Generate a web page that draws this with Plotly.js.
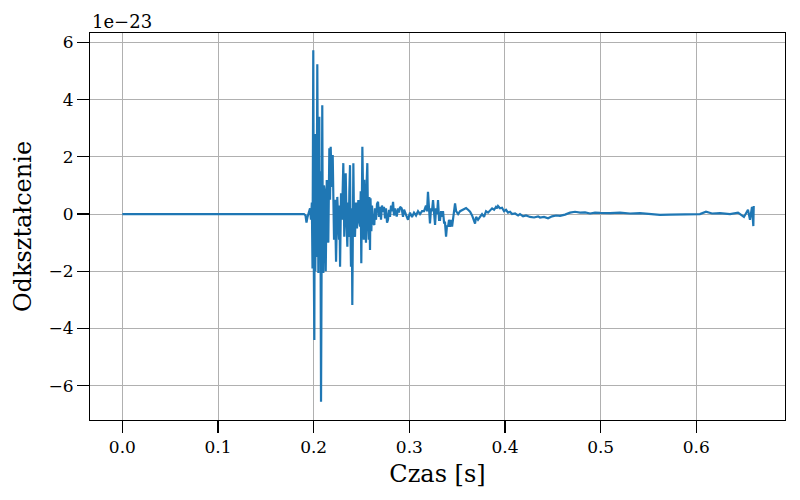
<!DOCTYPE html>
<html>
<head>
<meta charset="utf-8">
<script src="https://cdn.plot.ly/plotly-3.0.1.min.js"></script>
<style>html,body{margin:0;padding:0;background:#fff}#chart{width:800px;height:500px}</style>
</head>
<body>
<div id="chart"></div>
<script>
// Time [s]
const czas = [
0.0000,0.1899,0.1915,0.1925,0.1936,0.1952,0.1962,0.1972,0.1981,0.1988,
0.1996,0.2002,0.2007,0.2012,0.2017,0.2025,0.2030,0.2038,0.2043,0.2049,
0.2054,0.2059,0.2064,0.2070,0.2077,0.2082,0.2090,0.2095,0.2101,0.2108,
0.2116,0.2126,0.2137,0.2145,0.2153,0.2164,0.2171,0.2178,0.2189,0.2199,
0.2206,0.2213,0.2223,0.2234,0.2247,0.2255,0.2265,0.2270,0.2276,0.2286,
0.2296,0.2310,0.2320,0.2328,0.2335,0.2344,0.2352,0.2359,0.2367,0.2373,
0.2380,0.2385,0.2390,0.2398,0.2404,0.2415,0.2422,0.2432,0.2443,0.2453,
0.2467,0.2474,0.2485,0.2492,0.2498,0.2509,0.2516,0.2524,0.2530,0.2537,
0.2542,0.2547,0.2555,0.2561,0.2568,0.2576,0.2582,0.2589,0.2594,0.2603,
0.2610,0.2620,0.2634,0.2641,0.2652,0.2662,0.2673,0.2683,0.2694,0.2704,
0.2714,0.2725,0.2735,0.2746,0.2756,0.2767,0.2777,0.2788,0.2798,0.2809,
0.2819,0.2830,0.2840,0.2851,0.2868,0.2882,0.2892,0.2903,0.2920,0.2934,
0.2945,0.2955,0.2973,0.2986,0.3007,0.3028,0.3049,0.3070,0.3091,0.3112,
0.3133,0.3154,0.3174,0.3185,0.3195,0.3206,0.3216,0.3227,0.3237,0.3248,
0.3258,0.3269,0.3279,0.3290,0.3300,0.3311,0.3321,0.3332,0.3342,0.3352,
0.3363,0.3373,0.3384,0.3394,0.3405,0.3415,0.3426,0.3436,0.3447,0.3457,
0.3468,0.3478,0.3489,0.3510,0.3531,0.3552,0.3572,0.3593,0.3614,0.3635,
0.3656,0.3677,0.3687,0.3698,0.3718,0.3739,0.3760,0.3781,0.3802,0.3823,
0.3844,0.3865,0.3886,0.3906,0.3917,0.3927,0.3948,0.3969,0.3990,0.4011,
0.4032,0.4053,0.4074,0.4105,0.4137,0.4157,0.4189,0.4220,0.4262,0.4304,
0.4346,0.4366,0.4408,0.4450,0.4492,0.4534,0.4575,0.4628,0.4680,0.4732,
0.4785,0.4837,0.4889,0.4941,0.4993,0.5098,0.5202,0.5307,0.5411,0.5516,
0.5620,0.5725,0.5829,0.5934,0.6038,0.6101,0.6164,0.6248,0.6352,0.6436,
0.6498,0.6540,0.6561,0.6582,0.6596,0.6600
];
// Strain [1e-23]
const odksztalcenie = [
0.00,0.00,-0.05,-0.30,-0.10,0.15,0.20,-0.20,0.40,-1.90,
5.73,-2.00,-4.40,2.80,-2.00,2.70,-1.50,5.24,-1.00,-2.06,
2.50,3.40,-1.20,1.50,-6.56,1.78,3.80,-0.50,-2.06,1.00,
0.78,-2.00,1.19,-0.30,-1.00,2.30,0.50,2.35,0.95,2.06,
0.20,-0.90,0.50,-1.67,0.60,-0.30,-0.90,0.30,-1.84,0.73,
-0.20,1.78,-0.79,0.50,1.43,-0.30,-1.14,0.40,-0.80,0.80,
1.71,-0.50,-1.84,0.20,-3.18,1.78,-0.30,-0.80,0.40,-0.50,
0.49,-0.20,-0.44,0.80,-1.72,2.35,-0.50,-0.90,1.20,0.50,
-0.70,-1.00,1.20,1.78,-0.30,-0.90,0.60,-1.26,0.55,-0.60,
0.30,-0.30,-0.38,0.20,-0.20,0.35,0.43,-0.10,0.25,-0.20,
0.30,0.08,0.25,-0.15,0.20,-0.30,-0.20,0.15,-0.10,0.30,
0.10,0.43,-0.05,0.20,-0.09,0.20,0.05,0.25,0.20,-0.10,
0.15,0.05,-0.09,-0.20,0.05,-0.10,0.05,-0.05,0.10,0.00,
0.10,0.10,0.30,0.10,0.78,0.00,-0.33,0.20,0.10,0.49,
-0.10,-0.38,0.20,0.00,0.49,-0.20,-0.20,0.10,-0.10,0.10,
-0.30,-0.30,-0.79,-0.40,-0.44,-0.20,-0.45,-0.20,-0.44,-0.10,
0.20,0.37,0.10,0.00,0.10,0.14,0.20,0.21,0.15,0.08,
-0.05,-0.20,-0.33,-0.10,-0.20,-0.10,0.00,-0.10,0.10,0.05,
0.14,0.20,0.15,0.25,0.20,0.28,0.20,0.22,0.10,0.15,
0.05,0.08,0.00,0.02,-0.05,0.00,-0.08,-0.05,-0.10,-0.12,
-0.08,-0.12,-0.10,-0.15,-0.08,-0.05,-0.06,-0.02,0.05,0.08,
0.05,0.06,0.02,0.05,0.04,0.03,0.05,0.02,0.03,0.00,
-0.03,-0.02,-0.02,0.00,0.00,0.08,0.02,0.03,0.00,0.05,
-0.10,0.15,-0.20,0.25,-0.42,0.28
];
const xTicks = [0.0,0.1,0.2,0.3,0.4,0.5,0.6];
const yTicks = [-6,-4,-2,0,2,4,6];
const offsetLabel = '1e\u221223';

const font = 'DejaVu Serif, serif';
const trace = {
  x: czas, y: odksztalcenie, type: 'scatter', mode: 'lines',
  line: {color: '#1f77b4', width: 2.2}, hoverinfo: 'skip'
};
const axisCommon = {
  showline: true, linecolor: '#000', linewidth: 1, mirror: true,
  ticks: 'outside', ticklen: 12, tickwidth: 1.2, tickcolor: '#000',
  showgrid: true, gridcolor: '#b0b0b0', gridwidth: 1, zeroline: false,
  tickfont: {family: font, size: 17, color: '#000'}
};
const layout = {
  width: 800, height: 500,
  margin: {l: 90, r: 15, t: 33, b: 80},
  paper_bgcolor: '#fff', plot_bgcolor: '#fff',
  showlegend: false,
  xaxis: Object.assign({}, axisCommon, {
    range: [-0.0338, 0.6927], tickvals: xTicks, tickformat: '.1f',
    title: {text: 'Czas [s]', font: {family: font, size: 24, color: '#000'}, standoff: 8}
  }),
  yaxis: Object.assign({}, axisCommon, {
    range: [-7.2, 6.33], tickvals: yTicks, tickformat: 'd',
    title: {text: 'Odkształcenie', font: {family: font, size: 24, color: '#000'}, standoff: 10}
  }),
  annotations: [{
    text: offsetLabel, xref: 'paper', yref: 'paper', x: 0, y: 1,
    xanchor: 'left', yanchor: 'bottom', showarrow: false, yshift: -1,
    font: {family: font, size: 18, color: '#000'}
  }]
};
Plotly.newPlot('chart', [trace], layout, {displayModeBar: false, staticPlot: true});
</script>
</body>
</html>
